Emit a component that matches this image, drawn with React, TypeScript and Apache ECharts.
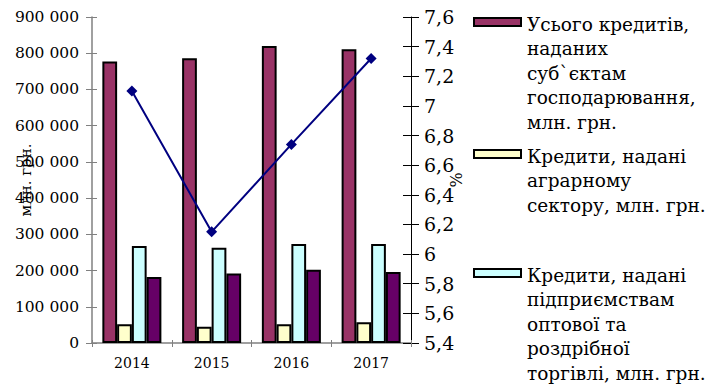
import React, { useEffect, useRef } from "react";
import * as echarts from "echarts";

const categories = ["2014", "2015", "2016", "2017"];
const totalCredits = [777000, 786000, 820000, 811000];
const agroCredits = [52000, 45000, 52000, 57000];
const tradeCredits = [268000, 263000, 273000, 273000];
const otherCredits = [182000, 192000, 202000, 196000];
const sharePct = [7.1, 6.15, 6.74, 7.32];

const leftTicks = { min: 0, max: 900000, interval: 100000 };
const rightTicks = { min: 5.4, max: 7.6, interval: 0.2 };

const legendLines1 = ["Усього кредитів,", "наданих", "суб`єктам", "господарювання,", "млн. грн."];
const legendLines2 = ["Кредити, надані", "аграрному", "сектору, млн. грн."];
const legendLines3 = ["Кредити, надані", "підприємствам", "оптової та", "роздрібної", "торгівлі, млн. грн."];

const leftAxisName = "млн. грн.";
const rightAxisName = "%";

const COLORS = ["#993366", "#FFFFCC", "#CCFFFF", "#660066"];
const LINE_COLOR = "#000080";
const FONT = "DejaVu Serif";

const fmtThousands = (v: number) => String(v).replace(/\B(?=(\d{3})+(?!\d))/g, " ");
const fmtPct = (v: number) => String(Number(v.toFixed(1))).replace(".", ",");

export default function App() {
  const ref = useRef<HTMLDivElement>(null);
  useEffect(() => {
    if (!ref.current) return;
    const chart = echarts.init(ref.current, null, { renderer: "svg" });
    const axisColor = "#808080";
    const barStyle = (c: string) => ({ color: c, borderColor: "#000", borderWidth: 2 });
    const legendItems = [
      { lines: legendLines1, color: COLORS[0], y: 18 },
      { lines: legendLines2, color: COLORS[1], y: 150 },
      { lines: legendLines3, color: COLORS[2], y: 269 },
    ];
    const graphic: any[] = [];
    legendItems.forEach((it) => {
      graphic.push({
        type: "rect",
        x: 474,
        y: it.y,
        shape: { x: 0, y: 0, width: 47, height: 8 },
        style: { fill: it.color, stroke: "#000", lineWidth: 2 },
      });
      graphic.push({
        type: "text",
        x: 527,
        y: it.y - 6,
        style: {
          text: it.lines.join("\n"),
          fontFamily: FONT,
          fontSize: 18.5,
          fill: "#000",
          lineHeight: 24.5,
          verticalAlign: "top",
        },
      });
    });

    chart.setOption({
      animation: false,
      backgroundColor: "#fff",
      textStyle: { fontFamily: FONT },
      grid: { left: 92, right: 297, top: 17, bottom: 42, containLabel: false },
      xAxis: [
        {
          type: "category",
          data: categories,
          axisLine: { lineStyle: { color: axisColor, width: 1.5 } },
          axisTick: { show: true, length: 4, lineStyle: { color: axisColor } },
          axisLabel: { color: "#000", fontSize: 14, fontFamily: FONT, margin: 13 },
        },
        {
          type: "category",
          data: categories,
          position: "bottom",
          axisLine: { show: false },
          axisTick: { show: true, inside: true, length: 3, lineStyle: { color: axisColor } },
          axisLabel: { show: false },
        },
      ],
      yAxis: [
        {
          type: "value",
          position: "left",
          ...leftTicks,
          name: leftAxisName,
          nameLocation: "middle",
          nameGap: 59,
          nameRotate: 90,
          nameMoveOverlap: false,
          nameTextStyle: { color: "#000", fontSize: 15, fontFamily: FONT },
          splitLine: { show: false },
          axisLine: { show: true, lineStyle: { color: axisColor, width: 1.5 } },
          axisTick: { show: true, length: 6, lineStyle: { color: axisColor } },
          axisLabel: { color: "#000", fontSize: 15.5, fontFamily: FONT, margin: 13, formatter: fmtThousands },
        },
        {
          type: "value",
          position: "left",
          ...leftTicks,
          splitLine: { show: false },
          axisLine: { show: false },
          axisTick: { show: true, inside: true, length: 5, lineStyle: { color: axisColor } },
          axisLabel: { show: false },
        },
        {
          type: "value",
          position: "right",
          ...rightTicks,
          name: rightAxisName,
          nameLocation: "middle",
          nameGap: 37,
          nameRotate: 90,
          nameMoveOverlap: false,
          nameTextStyle: { color: "#000", fontSize: 16, fontFamily: FONT },
          splitLine: { show: false },
          axisLine: { show: true, lineStyle: { color: "#000", width: 1 } },
          axisTick: { show: true, length: 8, lineStyle: { color: "#000" } },
          axisLabel: { color: "#000", fontSize: 19, fontFamily: FONT, margin: 13, formatter: fmtPct },
        },
        {
          type: "value",
          position: "right",
          ...rightTicks,
          splitLine: { show: false },
          axisLine: { show: false },
          axisTick: { show: true, inside: true, length: 8, lineStyle: { color: "#000" } },
          axisLabel: { show: false },
        },
      ],
      series: [
        { type: "bar", name: legendLines1.join(" "), data: totalCredits, yAxisIndex: 0, barGap: "0%", barCategoryGap: "26%", itemStyle: barStyle(COLORS[0]) },
        { type: "bar", name: legendLines2.join(" "), data: agroCredits, yAxisIndex: 0, barGap: "0%", barCategoryGap: "26%", itemStyle: barStyle(COLORS[1]) },
        { type: "bar", name: legendLines3.join(" "), data: tradeCredits, yAxisIndex: 0, barGap: "0%", barCategoryGap: "26%", itemStyle: barStyle(COLORS[2]) },
        { type: "bar", name: "other", data: otherCredits, yAxisIndex: 0, barGap: "0%", barCategoryGap: "26%", itemStyle: barStyle(COLORS[3]) },
        {
          type: "line",
          name: "%",
          data: sharePct,
          yAxisIndex: 2,
          symbol: "diamond",
          symbolSize: 11,
          lineStyle: { color: LINE_COLOR, width: 2 },
          itemStyle: { color: LINE_COLOR },
          z: 5,
        },
      ],
      graphic,
    });
    return () => chart.dispose();
  }, []);
  return <div ref={ref} style={{ width: 708, height: 385, position: "absolute", left: 0, top: 0 }} />;
}
